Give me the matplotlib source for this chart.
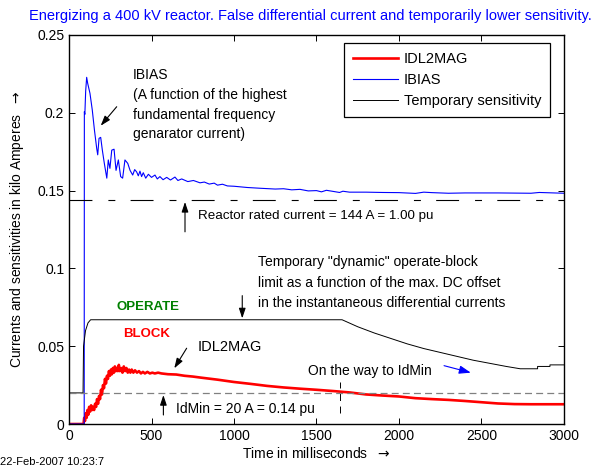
import matplotlib
matplotlib.use("Agg")
import matplotlib.pyplot as plt

plt.rcParams['font.family'] = ['Liberation Sans', 'DejaVu Sans']
plt.rcParams['font.size'] = 10
plt.rcParams['lines.scale_dashes'] = False

# time (ms) / value (kA) pairs
ibias = [(0, 0), (92, 0), (93, 0.2007), (96, 0.199), (101, 0.214), (107, 0.2228),
         (113, 0.219), (127, 0.2125), (141, 0.2018), (154, 0.189), (168, 0.177),
         (174, 0.173), (182, 0.1836), (192, 0.1842), (202, 0.176), (214, 0.1675),
         (229, 0.158), (238, 0.1697), (248, 0.1643), (259, 0.176), (273, 0.1766),
         (285, 0.163), (299, 0.1697), (313, 0.159), (325, 0.158), (339, 0.1697),
         (356, 0.1675), (370, 0.163), (386, 0.160), (398, 0.1635), (410, 0.162),
         (420, 0.1595), (430, 0.1625), (440, 0.159), (450, 0.1615), (465, 0.158),
         (481, 0.1605), (500, 0.1585), (521, 0.160), (535, 0.1575), (551, 0.159),
         (570, 0.157), (592, 0.1585), (615, 0.1568), (642, 0.1587), (660, 0.1565),
         (683, 0.1575), (720, 0.1558), (754, 0.1565), (794, 0.155), (820, 0.1555),
         (850, 0.1542), (880, 0.1548), (900, 0.1535), (930, 0.1541), (960, 0.153),
         (1000, 0.1528), (1080, 0.152), (1160, 0.1515), (1250, 0.151),
         (1300, 0.1512), (1350, 0.1505), (1400, 0.1508), (1450, 0.1498),
         (1500, 0.150), (1530, 0.1492), (1560, 0.1502), (1600, 0.1495),
         (1640, 0.1488), (1660, 0.1496), (1700, 0.149), (1800, 0.149),
         (1900, 0.1488), (2000, 0.1487), (2100, 0.1482), (2150, 0.149),
         (2200, 0.1487), (2300, 0.1483), (2400, 0.1485), (2600, 0.1485),
         (2800, 0.1483), (2850, 0.1488), (3000, 0.1483)]

idl2mag = [(0, 0), (88, 0), (92, 0.004), (97, 0.002), (102, 0.007), (107, 0.004),
           (112, 0.009), (117, 0.006), (122, 0.011), (128, 0.008), (134, 0.012),
           (140, 0.009), (146, 0.011), (152, 0.009), (158, 0.013), (164, 0.011),
           (170, 0.016), (176, 0.013), (182, 0.018), (188, 0.016), (194, 0.022),
           (200, 0.019), (206, 0.025), (212, 0.023), (218, 0.029), (224, 0.026),
           (230, 0.031), (236, 0.029), (242, 0.034), (248, 0.031), (254, 0.035),
           (260, 0.032), (266, 0.036), (272, 0.033), (278, 0.037), (284, 0.034),
           (290, 0.036), (296, 0.034), (302, 0.038), (308, 0.034), (316, 0.036),
           (324, 0.033), (332, 0.037), (340, 0.034), (348, 0.036), (356, 0.033),
           (364, 0.035), (372, 0.033), (380, 0.035), (390, 0.033), (400, 0.0345),
           (412, 0.033), (424, 0.034), (436, 0.0325), (448, 0.0335), (460, 0.0325),
           (475, 0.0335), (490, 0.0325), (505, 0.033), (520, 0.0325), (540, 0.033),
           (560, 0.0325), (600, 0.032), (650, 0.0318), (700, 0.031), (750, 0.0305),
           (800, 0.0298), (900, 0.0285), (1000, 0.027), (1100, 0.0258),
           (1200, 0.0245), (1300, 0.0235), (1400, 0.0227), (1500, 0.022),
           (1600, 0.0212), (1700, 0.0203), (1800, 0.019), (1900, 0.0183),
           (2000, 0.0177), (2100, 0.0166), (2200, 0.016), (2300, 0.0155),
           (2400, 0.0148), (2500, 0.014), (2600, 0.0132), (2700, 0.0128),
           (2800, 0.0127), (3000, 0.0127)]

temp_sens = [(0, 0.02), (85, 0.02), (88, 0.05), (100, 0.060), (115, 0.065),
             (131, 0.067), (1655, 0.067), (1750, 0.0625), (1850, 0.0585),
             (1950, 0.055), (2050, 0.0515), (2150, 0.0485), (2250, 0.046),
             (2350, 0.0435), (2450, 0.041), (2550, 0.039), (2650, 0.037),
             (2735, 0.0355), (2840, 0.0355), (2840, 0.037), (2915, 0.037),
             (2915, 0.038), (3000, 0.038)]

rated_current = 0.144
idmin = 0.02
idmin_marker_t = 1640

fig = plt.figure(figsize=(5.97, 4.66), dpi=100)
ax = fig.add_axes([0.1156, 0.0901, 0.8291, 0.8348])

t, v = zip(*idl2mag)
ax.plot(t, v, color='red', lw=1.9, label='IDL2MAG')
t, v = zip(*ibias)
ax.plot(t, v, color='blue', lw=0.8, label='IBIAS')
t, v = zip(*temp_sens)
ax.plot(t, v, color='black', lw=0.7, label='Temporary sensitivity')

ax.axhline(rated_current, color='black', lw=0.8, dashes=(16.5, 11.5, 5, 11))
ax.axhline(idmin, color='gray', lw=0.9, dashes=(5, 3))
ax.plot([idmin_marker_t, idmin_marker_t], [0.007, 0.027], color='black',
        lw=0.7, dashes=(5, 4))

ax.set_xlim(0, 3000)
ax.set_ylim(0, 0.25)
ax.set_xticks(range(0, 3001, 500))
ax.set_yticks([0, 0.05, 0.1, 0.15, 0.2, 0.25])
ax.set_yticklabels(['0', '0.05', '0.1', '0.15', '0.2', '0.25'])
ax.tick_params(direction='in', top=True, right=True, length=4, width=0.7)
for s in ax.spines.values():
    s.set_linewidth(1.0)

ax.set_xlabel(r'Time in milliseconds  $\rightarrow$', labelpad=2)
ax.set_ylabel(r'Currents and sensitivities in kilo Amperes  $\rightarrow$',
              labelpad=8)
fig.text(310.5 / 597, 1 - 16 / 466, 'Energizing a 400 kV reactor. False '
         'differential current and temporarily lower sensitivity.',
         color='blue', ha='center', va='center', fontsize=10.5)

leg = ax.legend(loc='upper right', bbox_to_anchor=(550 / 597, 1 - 43 / 466),
                bbox_transform=fig.transFigure, borderaxespad=0, fancybox=False,
                edgecolor='black', framealpha=1, fontsize=10.5, handlelength=3.1,
                handletextpad=0.4, labelspacing=0.5, borderpad=0.6)
leg.get_frame().set_linewidth(0.9)

arrow = dict(arrowstyle='-|>,head_length=0.6,head_width=0.2', color='black',
             lw=0.8, shrinkA=0, shrinkB=0)

ax.text(388, 0.2287, 'IBIAS\n(A function of the highest\nfundamental frequency\n'
        'genarator current)', va='top', ha='left', linespacing=1.52)
ax.annotate('', xy=(192, 0.1917), xytext=(289, 0.2039), arrowprops=arrow)

ax.text(782, 0.1337, 'Reactor rated current = 144 A = 1.00 pu', va='center',
        fontsize=9.6)
ax.annotate('', xy=(703, 0.1427), xytext=(703, 0.1235), arrowprops=arrow)

ax.text(1145, 0.1085, 'Temporary "dynamic" operate-block\nlimit as a function of '
        'the max. DC offset\nin the instantaneous differential currents',
        va='top', ha='left', linespacing=1.6)
ax.annotate('', xy=(1050, 0.0679), xytext=(1050, 0.0825), arrowprops=arrow)

ax.text(289, 0.0754, 'OPERATE', color='green', fontweight='bold', va='center',
        fontsize=9.5)
ax.text(329, 0.0578, 'BLOCK', color='red', fontweight='bold', va='center',
        fontsize=9.5)

ax.text(782, 0.0495, 'IDL2MAG', va='center', fontsize=10.5)
ax.annotate('', xy=(638, 0.0358), xytext=(713, 0.0487), arrowprops=arrow)

ax.text(1448, 0.0343, 'On the way to IdMin', va='center')
ax.annotate('', xy=(2435, 0.033), xytext=(2273, 0.0375),
            arrowprops=dict(arrowstyle='-|>,head_length=0.7,head_width=0.25',
                            color='blue', lw=0.8, shrinkA=0, shrinkB=0))

ax.text(648, 0.0096, 'IdMin = 20 A = 0.14 pu', va='center')
ax.annotate('', xy=(572, 0.0186), xytext=(572, 0.0058), arrowprops=arrow)

fig.text(104 / 597, 1 - 462 / 466, '22-Feb-2007 10:23:7', ha='right',
         va='center', fontsize=8)

fig.savefig('out.png', dpi=100)
